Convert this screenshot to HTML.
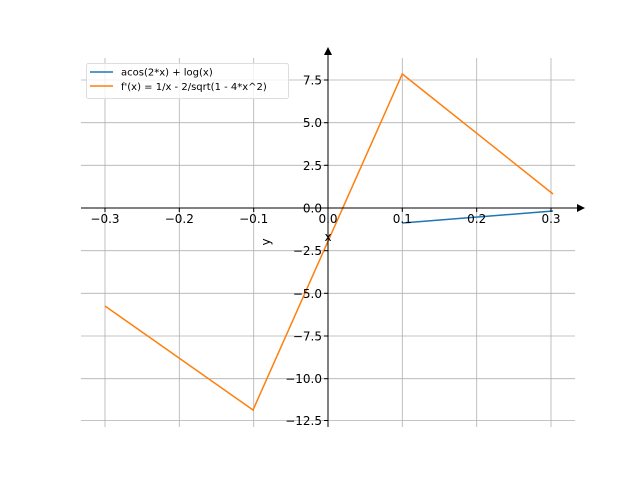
<!DOCTYPE html>
<html><head><meta charset="utf-8"><style>html,body{margin:0;padding:0;background:#fff}svg{display:block}text{font-family:"DejaVu Sans","Liberation Sans",sans-serif;font-size:12px;fill:#000}</style></head>
<body>
<svg width="640" height="480" viewBox="0 0 640 480">
<g stroke="#b0b0b0" stroke-width="0.8">
<line x1="105" y1="58" x2="105" y2="427"/>
<line x1="179.3" y1="58" x2="179.3" y2="427"/>
<line x1="253.7" y1="58" x2="253.7" y2="427"/>
<line x1="328" y1="58" x2="328" y2="427"/>
<line x1="402.3" y1="58" x2="402.3" y2="427"/>
<line x1="476.7" y1="58" x2="476.7" y2="427"/>
<line x1="551" y1="58" x2="551" y2="427"/>
<line x1="81" y1="80" x2="575" y2="80"/>
<line x1="81" y1="122.7" x2="575" y2="122.7"/>
<line x1="81" y1="165.3" x2="575" y2="165.3"/>
<line x1="81" y1="208" x2="575" y2="208"/>
<line x1="81" y1="250.7" x2="575" y2="250.7"/>
<line x1="81" y1="293.3" x2="575" y2="293.3"/>
<line x1="81" y1="336" x2="575" y2="336"/>
<line x1="81" y1="378.7" x2="575" y2="378.7"/>
<line x1="81" y1="420.5" x2="575" y2="420.5"/>
</g>
<polyline points="402.3,223 553,211" fill="none" stroke="#1f77b4" stroke-width="1.5"/>
<polyline points="105,306 253,410 402.3,74 553,194" fill="none" stroke="#ff7f0e" stroke-width="1.5"/>
<g stroke="#000" stroke-width="1">
<line x1="81" y1="208" x2="580" y2="208"/>
<line x1="328" y1="52" x2="328" y2="427"/>
<line x1="105" y1="208" x2="105" y2="212"/>
<line x1="179.3" y1="208" x2="179.3" y2="212"/>
<line x1="253.7" y1="208" x2="253.7" y2="212"/>
<line x1="328" y1="208" x2="328" y2="212"/>
<line x1="402.3" y1="208" x2="402.3" y2="212"/>
<line x1="476.7" y1="208" x2="476.7" y2="212"/>
<line x1="551" y1="208" x2="551" y2="212"/>
<line x1="324" y1="80" x2="328" y2="80"/>
<line x1="324" y1="122.7" x2="328" y2="122.7"/>
<line x1="324" y1="165.3" x2="328" y2="165.3"/>
<line x1="324" y1="208" x2="328" y2="208"/>
<line x1="324" y1="250.7" x2="328" y2="250.7"/>
<line x1="324" y1="293.3" x2="328" y2="293.3"/>
<line x1="324" y1="336" x2="328" y2="336"/>
<line x1="324" y1="378.7" x2="328" y2="378.7"/>
<line x1="324" y1="420.5" x2="328" y2="420.5"/>
</g>
<polygon points="585,208 577,204 577,212" fill="#000"/>
<polygon points="328,47 324,55 332,55" fill="#000"/>
<g text-anchor="middle">
<text x="105" y="223">−0.3</text>
<text x="179.3" y="223">−0.2</text>
<text x="253.7" y="223">−0.1</text>
<text x="328" y="223">0.0</text>
<text x="402.3" y="223">0.1</text>
<text x="476.7" y="223">0.2</text>
<text x="551" y="223">0.3</text>
<text x="328" y="241">x</text>
<text transform="translate(270,242) rotate(-90)">y</text>
</g>
<g text-anchor="end">
<text x="322" y="84.5">7.5</text>
<text x="322" y="127.2">5.0</text>
<text x="322" y="169.8">2.5</text>
<text x="322" y="212.5">0.0</text>
<text x="322" y="255.2">−2.5</text>
<text x="322" y="297.8">−5.0</text>
<text x="322" y="340.5">−7.5</text>
<text x="322" y="383.2">−10.0</text>
<text x="322" y="425">−12.5</text>
</g>
<rect x="86.5" y="63.5" width="202" height="35" rx="2" fill="#fff" fill-opacity="0.8" stroke="#ddd"/>
<line x1="90" y1="72" x2="113" y2="72" stroke="#1f77b4" stroke-width="1.5"/>
<line x1="90" y1="86" x2="113" y2="86" stroke="#ff7f0e" stroke-width="1.5"/>
<text x="121" y="75.5" style="font-size:10px">acos(2*x) + log(x)</text>
<text x="121" y="90" style="font-size:10px">f'(x) = 1/x - 2/sqrt(1 - 4*x^2)</text>
</svg>
</body></html>
